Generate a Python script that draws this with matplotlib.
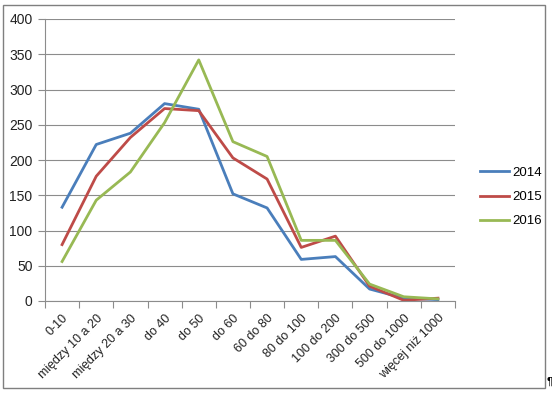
import matplotlib.pyplot as plt
from matplotlib.patches import Rectangle
from matplotlib.ticker import MultipleLocator

plt.rcParams['font.family'] = ['Liberation Sans', 'DejaVu Sans']

categories = ["0-10", "między 10 a 20", "między 20 a 30", "do 40", "do 50",
              "do 60", "60 do 80", "80 do 100", "100 do 200", "300 do 500",
              "500 do 1000", "więcej niż 1000"]
y2014 = [133, 222, 238, 280, 272, 152, 132, 59, 63, 17, 4, 2]
y2015 = [80, 177, 232, 273, 270, 203, 173, 76, 92, 21, 1, 4]
y2016 = [56, 143, 183, 253, 342, 226, 205, 86, 86, 24, 6, 3]
series = [("2014", y2014, "#4A7EBB"), ("2015", y2015, "#BE4B48"),
          ("2016", y2016, "#98B954")]

fig = plt.figure(figsize=(5.52, 3.94), dpi=100)
ax = fig.add_axes([45 / 552, 1 - 301 / 394, 410 / 552, 282 / 394])

x = range(len(categories))
for name, vals, col in series:
    ax.plot(x, vals, color=col, lw=2.0, label=name, solid_joinstyle="round")

ax.set_xlim(-0.5, len(categories) - 0.5)
ax.set_ylim(0, 400)
ax.yaxis.set_major_locator(MultipleLocator(50))
ax.grid(axis="y", color="#8c8c8c", lw=0.8)
ax.set_axisbelow(True)
for s in ["top", "right"]:
    ax.spines[s].set_visible(False)
for s in ["left", "bottom"]:
    ax.spines[s].set_color("#8c8c8c")
    ax.spines[s].set_linewidth(0.8)

ax.set_xticks(list(x))
ax.set_xticklabels(categories, rotation=45, ha="right",
                   rotation_mode="anchor")
ax.set_xticks([i - 0.5 for i in range(len(categories) + 1)], minor=True)
ax.tick_params(axis="x", which="major", length=0, pad=8, labelsize=9,
               labelcolor="#222222")
ax.tick_params(axis="x", which="minor", length=5, color="#8c8c8c",
               width=0.8)
ax.tick_params(axis="y", length=5, color="#8c8c8c", width=0.8, labelsize=10,
               labelcolor="#222222", pad=4)

ax.legend(loc="center left", bbox_to_anchor=(468 / 552, 1 - 197 / 394),
          bbox_transform=fig.transFigure, frameon=False, fontsize=9.5,
          handlelength=2.2, handletextpad=0.25, labelspacing=0.9)

fig.patches.append(Rectangle((3 / 552, 1 - 388 / 394), 542 / 552, 383 / 394,
                             transform=fig.transFigure, fill=False,
                             edgecolor="#7f7f7f", lw=1.0))
fig.text(547 / 552, 1 - 382 / 394, "¶", fontsize=8, ha="left", va="center")

fig.savefig("out.png", dpi=100)
